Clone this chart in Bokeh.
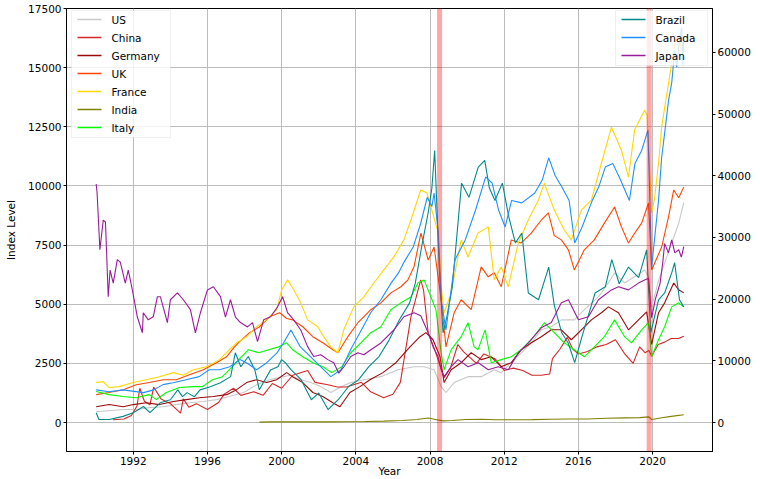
from bokeh.plotting import figure
from bokeh.models import Range1d, LinearAxis, FixedTicker, BoxAnnotation, Label
from bokeh.embed import file_html
from bokeh.resources import INLINE

# ---------------- data: (year, index level) ----------------
us = [(1990.0,460),(1991.46,550),(1992.16,550),(1992.86,630),(1993.62,670),(1994.32,760),(1995.03,840),
      (1995.78,890),(1996.49,970),(1997.19,1100),(1997.95,1270),(1998.65,1600),(1999.35,1810),(2000.11,1940),
      (2000.43,2000),(2001.03,1810),(2001.57,1690),(2002.11,1520),(2002.65,1270),(2003.19,1500),(2003.73,1690),
      (2004.43,1810),(2005.35,1940),(2006.27,2230),(2007.14,2360),(2007.68,2360),(2008.22,2230),(2008.6,1520),
      (2008.86,1270),(2009.3,1690),(2010.05,1940),(2010.76,1940),(2011.46,2230),(2011.84,2110),(2012.38,2530),
      (2012.92,2950),(2013.46,3370),(2014.0,3920),(2014.54,4050),(2015.08,4340),(2015.78,4340),(2016.32,4770),
      (2017.08,5310),(2017.62,5900),(2017.95,6330),(2018.49,5900),(2019.03,6160),(2019.57,6450),(2019.78,6160),
      (2019.95,4890),(2020.32,6000),(2020.65,6750),(2021.03,7590),(2021.41,8430),(2021.68,9300)]

china = [(1990.9,120),(1991.5,150),(1991.9,300),(1992.2,700),(1992.35,1450),(1992.6,900),(1992.9,750),
         (1993.1,1500),(1993.5,1000),(1994.0,800),(1994.55,400),(1994.7,1000),(1995.0,650),(1995.4,800),
         (1996.0,550),(1996.6,850),(1996.9,1200),(1997.4,1450),(1997.8,1150),(1998.5,1300),(1999.0,1150),
         (1999.5,1650),(2000.0,1450),(2000.6,2000),(2001.4,2200),(2001.8,1700),(2002.5,1600),(2003.0,1500),
         (2003.5,1500),(2004.3,1700),(2004.8,1300),(2005.5,1050),(2006.0,1200),(2006.4,1700),(2006.97,4470),
         (2007.5,6030),(2007.65,5600),(2007.9,3800),(2008.2,3200),(2008.5,2500),(2008.76,1900),(2009.1,2300),
         (2009.5,3300),(2009.8,3000),(2010.5,2500),(2010.9,2900),(2011.5,2700),(2012.0,2200),(2012.5,2300),
         (2013.0,2200),(2013.5,2000),(2014.0,2000),(2014.45,2050),(2014.6,2700),(2015.0,3100),(2015.4,3600),
         (2015.7,3100),(2016.0,2900),(2016.5,3000),(2017.0,3200),(2017.5,3300),(2018.0,3500),(2018.5,2900),
         (2018.95,2500),(2019.3,3200),(2019.6,2950),(2019.8,3050),(2019.95,2800),(2020.3,3300),(2020.65,3400),
         (2021.0,3550),(2021.4,3550),(2021.68,3650)]

germany = [(1990.0,670),(1990.7,760),(1991.46,670),(1992.0,760),(1992.7,840),(1993.41,760),(1994.16,890),
           (1994.86,970),(1995.57,1050),(1996.32,1100),(1997.03,1180),(1997.57,1390),(1998.11,1690),(1998.65,1810),
           (1999.19,1690),(1999.73,1810),(2000.27,2110),(2000.59,1940),(2001.14,1690),(2001.68,1270),(2002.22,1100),
           (2002.76,840),(2003.14,670),(2003.68,1270),(2004.22,1520),(2004.76,1810),(2005.46,2110),(2006.16,2530),
           (2006.92,3200),(2007.46,3630),(2007.78,3800),(2008.16,3500),(2008.54,2780),(2008.76,1690),(2009.14,2230),
           (2009.68,2530),(2010.22,2950),(2010.76,2660),(2011.3,2780),(2011.84,2360),(2012.38,2530),(2012.92,3080),
           (2013.46,3370),(2014.0,3630),(2014.54,3920),(2015.08,3920),(2015.62,3500),(2016.16,3920),(2016.7,4340),
           (2017.24,4640),(2017.62,4890),(2018.16,4640),(2018.7,3920),(2019.24,4340),(2019.68,4680),(2019.95,3300),
           (2020.32,4640),(2020.65,5060),(2021.14,5900),(2021.41,5610),(2021.68,5480)]

uk = [(1990.0,1180),(1990.7,1270),(1991.46,1390),(1992.16,1600),(1992.86,1690),(1993.62,1810),(1994.32,1810),
      (1995.03,2020),(1995.78,2230),(1996.49,2530),(1997.03,2780),(1997.41,3160),(1997.73,3420),(1998.27,3800),
      (1998.81,4050),(1999.35,4470),(1999.89,4640),(2000.27,4400),(2000.59,4340),(2001.14,4050),(2001.68,3630),
      (2002.22,3370),(2002.76,3080),(2003.03,2950),(2003.57,3630),(2004.11,4220),(2004.81,4770),(2005.35,5060),
      (2005.89,5480),(2006.43,5740),(2006.81,6030),(2007.14,6600),(2007.51,8010),(2007.9,6870),(2008.22,7420),
      (2008.6,5190),(2008.86,3200),(2009.3,4640),(2009.68,5190),(2010.22,4770),(2010.76,6580),(2011.14,6160),
      (2011.46,6330),(2011.84,5740),(2012.38,7720),(2012.92,7590),(2013.46,8010),(2014.0,8560),(2014.38,8860),
      (2014.7,7900),(2015.08,7720),(2015.46,7300),(2015.78,6450),(2016.32,7300),(2016.86,7720),(2017.4,8430),
      (2017.95,9110),(2018.32,8270),(2018.7,7590),(2019.03,8000),(2019.41,8430),(2019.78,9280),(2019.95,6450),
      (2020.49,7420),(2020.86,8690),(2021.14,9830),(2021.41,9500),(2021.68,9950)]

france = [(1990.0,1690),(1990.38,1730),(1990.7,1480),(1991.24,1520),(1992.0,1690),(1992.7,1810),(1993.41,1940),
          (1994.16,2110),(1994.7,2000),(1995.24,2230),(1995.95,2360),(1996.65,2660),(1997.19,3080),(1997.57,3370),
          (1998.11,3630),(1998.65,4050),(1999.19,4340),(1999.73,4770),(2000.0,5600),(2000.32,6030),(2000.65,5610),
          (2001.03,5060),(2001.4,4340),(2001.95,4050),(2002.27,3630),(2002.65,3200),(2003.03,2950),(2003.35,3920),
          (2003.89,4890),(2004.43,5310),(2004.97,5900),(2005.51,6450),(2006.05,7000),(2006.59,7720),(2006.97,8560),
          (2007.5,9830),(2007.84,9700),(2008.2,8690),(2008.45,8010),(2008.6,5740),(2008.76,4640),(2009.14,5480),
          (2009.68,7720),(2010.05,7000),(2010.59,8010),(2011.14,8270),(2011.46,6030),(2011.84,6580),(2012.22,5740),
          (2012.76,7590),(2013.3,8560),(2013.84,9400),(2014.16,10120),(2014.7,8980),(2015.24,8140),(2015.62,7720),
          (2016.16,8980),(2016.7,9400),(2017.24,10960),(2017.78,12480),(2018.32,11510),(2018.7,10370),(2019.03,12360),
          (2019.57,13200),(2019.7,13000),(2019.95,8860),(2020.11,9500),(2020.32,10960),(2020.49,12500),(2020.65,13300),
          (2020.86,14340),(2021.14,15730),(2021.3,16280),(2021.46,15500),(2021.57,16450),(2021.68,16100)]

india = [(1998.8,20),(1999.5,30),(2000.5,35),(2001.5,30),(2002.5,30),(2003.5,35),(2004.5,45),(2005.5,60),
         (2006.5,90),(2007.3,130),(2007.9,190),(2008.3,130),(2008.7,70),(2009.2,90),(2009.9,130),(2010.8,140),
         (2011.5,120),(2012.5,120),(2013.5,125),(2014.5,140),(2015.5,150),(2016.5,150),(2017.5,180),(2018.5,200),
         (2019.3,210),(2019.8,240),(2019.95,130),(2020.5,200),(2021.0,260),(2021.68,330)]

italy = [(1990.0,1310),(1990.7,1180),(1991.46,1100),(1992.16,1050),(1992.86,1180),(1993.24,970),(1993.78,1270),
         (1994.49,1480),(1995.19,1520),(1995.73,1520),(1996.27,1810),(1996.81,1940),(1997.35,2360),(1997.68,2660),
         (1998.22,3080),(1998.76,2950),(1999.3,3080),(1999.84,3200),(2000.27,3370),(2000.59,3080),(2001.14,2780),
         (2001.68,2530),(2002.22,2360),(2002.7,2110),(2003.24,2360),(2003.73,2950),(2004.27,3370),(2004.81,3800),
         (2005.35,4050),(2005.89,4770),(2006.43,5060),(2006.97,5310),(2007.35,5900),(2007.68,6030),(2008.05,5310),
         (2008.32,4770),(2008.6,2950),(2008.76,2230),(2009.14,3080),(2009.68,3630),(2010.05,4220),(2010.38,3200),
         (2010.59,3080),(2010.97,3920),(2011.3,2530),(2011.84,2660),(2012.38,2780),(2012.92,3080),(2013.46,3500),
         (2014.0,4050),(2014.16,4220),(2014.7,3800),(2015.24,3370),(2015.78,3080),(2016.32,2780),(2016.86,3200),
         (2017.4,3630),(2017.95,4340),(2018.49,3630),(2018.86,3370),(2019.41,3920),(2019.78,4220),(2019.95,2780),
         (2020.32,3500),(2020.65,4050),(2021.03,4890),(2021.41,5060),(2021.68,4890)]

brazil = [(1990.0,1600),(1990.15,500),(1990.7,500),(1991.45,1000),(1992.0,1600),(1992.55,2600),(1992.9,1600),
          (1993.45,3200),(1994.0,3700),(1994.4,5300),(1994.65,4200),(1994.9,4850),(1995.3,4200),(1995.6,5300),
          (1996.15,5800),(1996.7,6450),(1997.25,7440),(1997.5,11300),(1997.8,9050),(1998.2,10700),(1998.55,8570),
          (1998.8,5300),(1999.1,6950),(1999.4,8500),(1999.8,9050),(2000.0,10200),(2000.2,9700),(2000.5,8570),
          (2001.05,6950),(2001.6,3700),(2002.0,4800),(2002.5,2100),(2003.05,3700),(2003.6,5800),(2004.15,6950),
          (2004.7,9050),(2005.25,10700),(2005.8,13400),(2006.35,16650),(2006.9,19400),(2007.2,22500),(2007.55,28500),
          (2007.9,34000),(2008.1,38000),(2008.25,44100),(2008.35,36500),(2008.5,25000),(2008.7,14550),(2008.9,17000),
          (2009.2,22000),(2009.7,38800),(2010.1,36500),(2010.6,41400),(2010.95,42500),(2011.2,38000),(2011.5,36000),
          (2011.9,38800),(2012.25,33300),(2012.6,29100),(2012.95,30700),(2013.3,21000),(2013.85,19900),(2014.4,25200),
          (2014.7,19000),(2015.1,14550),(2015.45,12900),(2015.8,9700),(2016.2,14000),(2016.9,21000),(2017.45,22000),
          (2017.8,26400),(2018.2,22500),(2018.7,25200),(2019.25,23500),(2019.68,28000),(2019.9,14550),(2020.32,19900),
          (2020.65,21000),(2021.03,24250),(2021.19,25900),(2021.45,19900),(2021.68,18750)]

canada = [(1990.0,5300),(1990.7,5000),(1991.45,5300),(1992.55,4850),(1993.1,5300),(1993.6,6150),(1994.15,6450),
          (1994.85,6950),(1995.55,7440),(1996.1,8570),(1996.65,8570),(1997.2,9050),(1997.75,10200),(1998.1,9700),
          (1998.65,8570),(1999.2,9700),(1999.75,11300),(2000.1,12900),(2000.5,15000),(2001.0,12300),(2001.55,10700),
          (2002.1,9050),(2002.65,7440),(2003.2,8570),(2003.75,12000),(2004.3,15000),(2004.8,17800),(2005.35,19900),
          (2005.9,22600),(2006.3,24250),(2006.6,26000),(2007.1,28500),(2007.5,32300),(2007.85,36500),(2008.1,35000),
          (2008.22,37200),(2008.43,31200),(2008.6,20000),(2008.86,15000),(2009.35,26400),(2009.9,29600),(2010.45,34400),
          (2011.0,39800),(2011.35,38800),(2011.7,34400),(2012.05,31700),(2012.4,36000),(2012.95,35600),(2013.65,37200),
          (2014.05,39300),(2014.4,42900),(2014.75,40000),(2015.1,38200),(2015.5,36000),(2015.8,29100),(2016.2,31700),
          (2016.75,36000),(2017.1,38200),(2017.45,41400),(2017.85,42000),(2018.2,39800),(2018.75,36000),(2019.05,42000),
          (2019.41,44100),(2019.75,47400),(2019.95,25200),(2020.32,36000),(2020.49,43000),(2020.65,46900),(2020.86,52200),
          (2021.03,55000),(2021.19,60300),(2021.3,57600),(2021.45,62000),(2021.57,64000),(2021.62,58000),(2021.68,62500)]

japan = [(1990.0,38650),(1990.05,37200),(1990.2,28000),(1990.38,32800),(1990.5,32500),(1990.65,20400),(1990.75,24700),
         (1990.92,22600),(1991.14,26400),(1991.3,26000),(1991.57,22600),(1991.73,24700),(1991.95,21500),(1992.22,17100),
         (1992.49,14550),(1992.54,17800),(1992.81,16650),(1993.08,17150),(1993.3,20400),(1993.46,20400),(1993.84,16200),
         (1994.0,19900),(1994.38,21000),(1994.7,19900),(1995.08,18300),(1995.35,14550),(1995.62,17800),(1996.0,21500),
         (1996.32,22000),(1996.7,20400),(1996.97,17100),(1997.24,19900),(1997.51,17100),(1997.78,16200),(1998.16,15500),
         (1998.43,16200),(1998.7,13100),(1999.03,16650),(1999.4,17150),(1999.78,18750),(2000.05,20400),(2000.32,17800),
         (2000.65,16650),(2001.03,15000),(2001.4,12300),(2001.73,10700),(2002.11,11000),(2002.49,10200),(2002.81,9700),
         (2003.08,8000),(2003.35,9000),(2003.73,10700),(2004.11,11300),(2004.43,11000),(2004.81,11800),(2005.35,12900),
         (2006.05,15000),(2006.59,17150),(2007.14,17800),(2007.5,17300),(2007.9,14550),(2008.16,12300),(2008.43,10700),
         (2008.6,8570),(2008.76,7440),(2009.14,9050),(2009.51,10200),(2010.05,9050),(2010.6,9700),(2011.14,8570),
         (2011.68,9050),(2012.22,8570),(2012.76,11300),(2013.3,12900),(2014.0,15350),(2014.54,16200),(2015.08,19400),
         (2015.46,19900),(2016.0,16650),(2016.54,17150),(2017.08,19900),(2017.78,21500),(2018.16,22000),(2018.7,21500),
         (2019.24,22600),(2019.57,23100),(2019.78,23400),(2019.95,17000),(2020.15,20000),(2020.4,22500),(2020.55,26000),
         (2020.65,29000),(2020.85,27500),(2021.03,29600),(2021.2,27500),(2021.41,28000),(2021.55,26800),(2021.68,28500)]

left_names = ["US", "China", "Germany", "UK", "France", "India", "Italy"]
left_series = [us, china, germany, uk, france, india, italy]
left_colors = ["#c8c8c8", "#d62728", "#9b0a0a", "#ff4500", "#ffd700", "#808000", "#00ff00"]

right_names = ["Brazil", "Canada", "Japan"]
right_series = [brazil, canada, japan]
right_colors = ["#008b8b", "#1e90ff", "#9b1b9b"]

crisis_spans = [(2008.38, 2008.65), (2019.68, 2019.95)]

x_ticks = [1992, 1996, 2000, 2004, 2008, 2012, 2016, 2020]
left_ticks = [0, 2500, 5000, 7500, 10000, 12500, 15000, 17500]
right_ticks = [0, 10000, 20000, 30000, 40000, 50000, 60000]

FONT = "DejaVu Sans"
FS = "10.5px"
FW, FH = 646, 443  # plot frame size in px

p = figure(frame_width=FW, frame_height=FH, output_backend="svg", toolbar_location=None,
           x_range=Range1d(1988.4, 2023.23), y_range=Range1d(-1223, 17500),
           min_border_left=66, min_border_right=46, min_border_top=8, min_border_bottom=27)
p.extra_y_ranges = {"right": Range1d(-4690, 67100)}

def split(pairs):
    return [a for a, b in pairs], [b for a, b in pairs]

for data, col in zip(left_series, left_colors):
    xs, ys = split(data)
    p.line(xs, ys, line_color=col, line_width=1.1)

for data, col in zip(right_series, right_colors):
    xs, ys = split(data)
    p.line(xs, ys, line_color=col, line_width=1.1, y_range_name="right")

for a, b in crisis_spans:
    p.add_layout(BoxAnnotation(left=a, right=b, fill_color="red", fill_alpha=0.35, line_color=None))

raxis = LinearAxis(y_range_name="right")
p.add_layout(raxis, "right")

p.xaxis.ticker = FixedTicker(ticks=x_ticks)
p.yaxis[0].ticker = FixedTicker(ticks=left_ticks)
raxis.ticker = FixedTicker(ticks=right_ticks)
p.ygrid.ticker = FixedTicker(ticks=left_ticks)
p.xgrid.ticker = FixedTicker(ticks=x_ticks)

p.xaxis.axis_label = "Year"
p.yaxis[0].axis_label = "Index Level"

for ax in p.axis:
    ax.major_label_text_font = FONT
    ax.major_label_text_font_size = FS
    ax.major_label_text_color = "black"
    ax.axis_label_text_font = FONT
    ax.axis_label_text_font_size = FS
    ax.axis_label_text_font_style = "normal"
    ax.axis_label_text_color = "black"
    ax.axis_line_color = "black"
    ax.major_tick_line_color = "black"
    ax.major_tick_in = 0
    ax.major_tick_out = 3
    ax.minor_tick_line_color = None
    ax.major_label_standoff = 2
p.yaxis[0].axis_label_standoff = 8
p.xaxis.axis_label_standoff = -3

p.grid.grid_line_color = "#bcbcbc"
p.grid.grid_line_width = 1
p.outline_line_color = "black"
p.outline_line_width = 1
p.background_fill_color = "white"
p.border_fill_color = "white"

# legends built from annotations (screen units relative to the frame)
def add_legend(names, colors, box_left, box_width):
    n = len(names)
    top = 2
    box_h = 18 * n + 1
    p.add_layout(BoxAnnotation(left=box_left, right=box_left + box_width,
                               top=FH - top, bottom=FH - top - box_h,
                               left_units="screen", right_units="screen",
                               top_units="screen", bottom_units="screen",
                               fill_color="white", fill_alpha=0.8,
                               line_color="#cccccc", line_width=1))
    for i, (name, col) in enumerate(zip(names, colors)):
        yc = FH - (top + 9 + 18 * i)
        p.add_layout(BoxAnnotation(left=box_left + 6, right=box_left + 30,
                                   top=yc + 0.8, bottom=yc - 0.8,
                                   left_units="screen", right_units="screen",
                                   top_units="screen", bottom_units="screen",
                                   fill_color=col, fill_alpha=1, line_color=None))
        p.add_layout(Label(x=box_left + 40, y=yc, x_units="screen", y_units="screen",
                           text=name, text_baseline="middle", text_align="left",
                           text_font=FONT, text_font_size=FS, text_color="black"))

add_legend(left_names, left_colors, 5, 99)
add_legend(right_names, right_colors, FW - 5 - 92, 92)

open("out.html", "w").write(file_html(p, INLINE))
